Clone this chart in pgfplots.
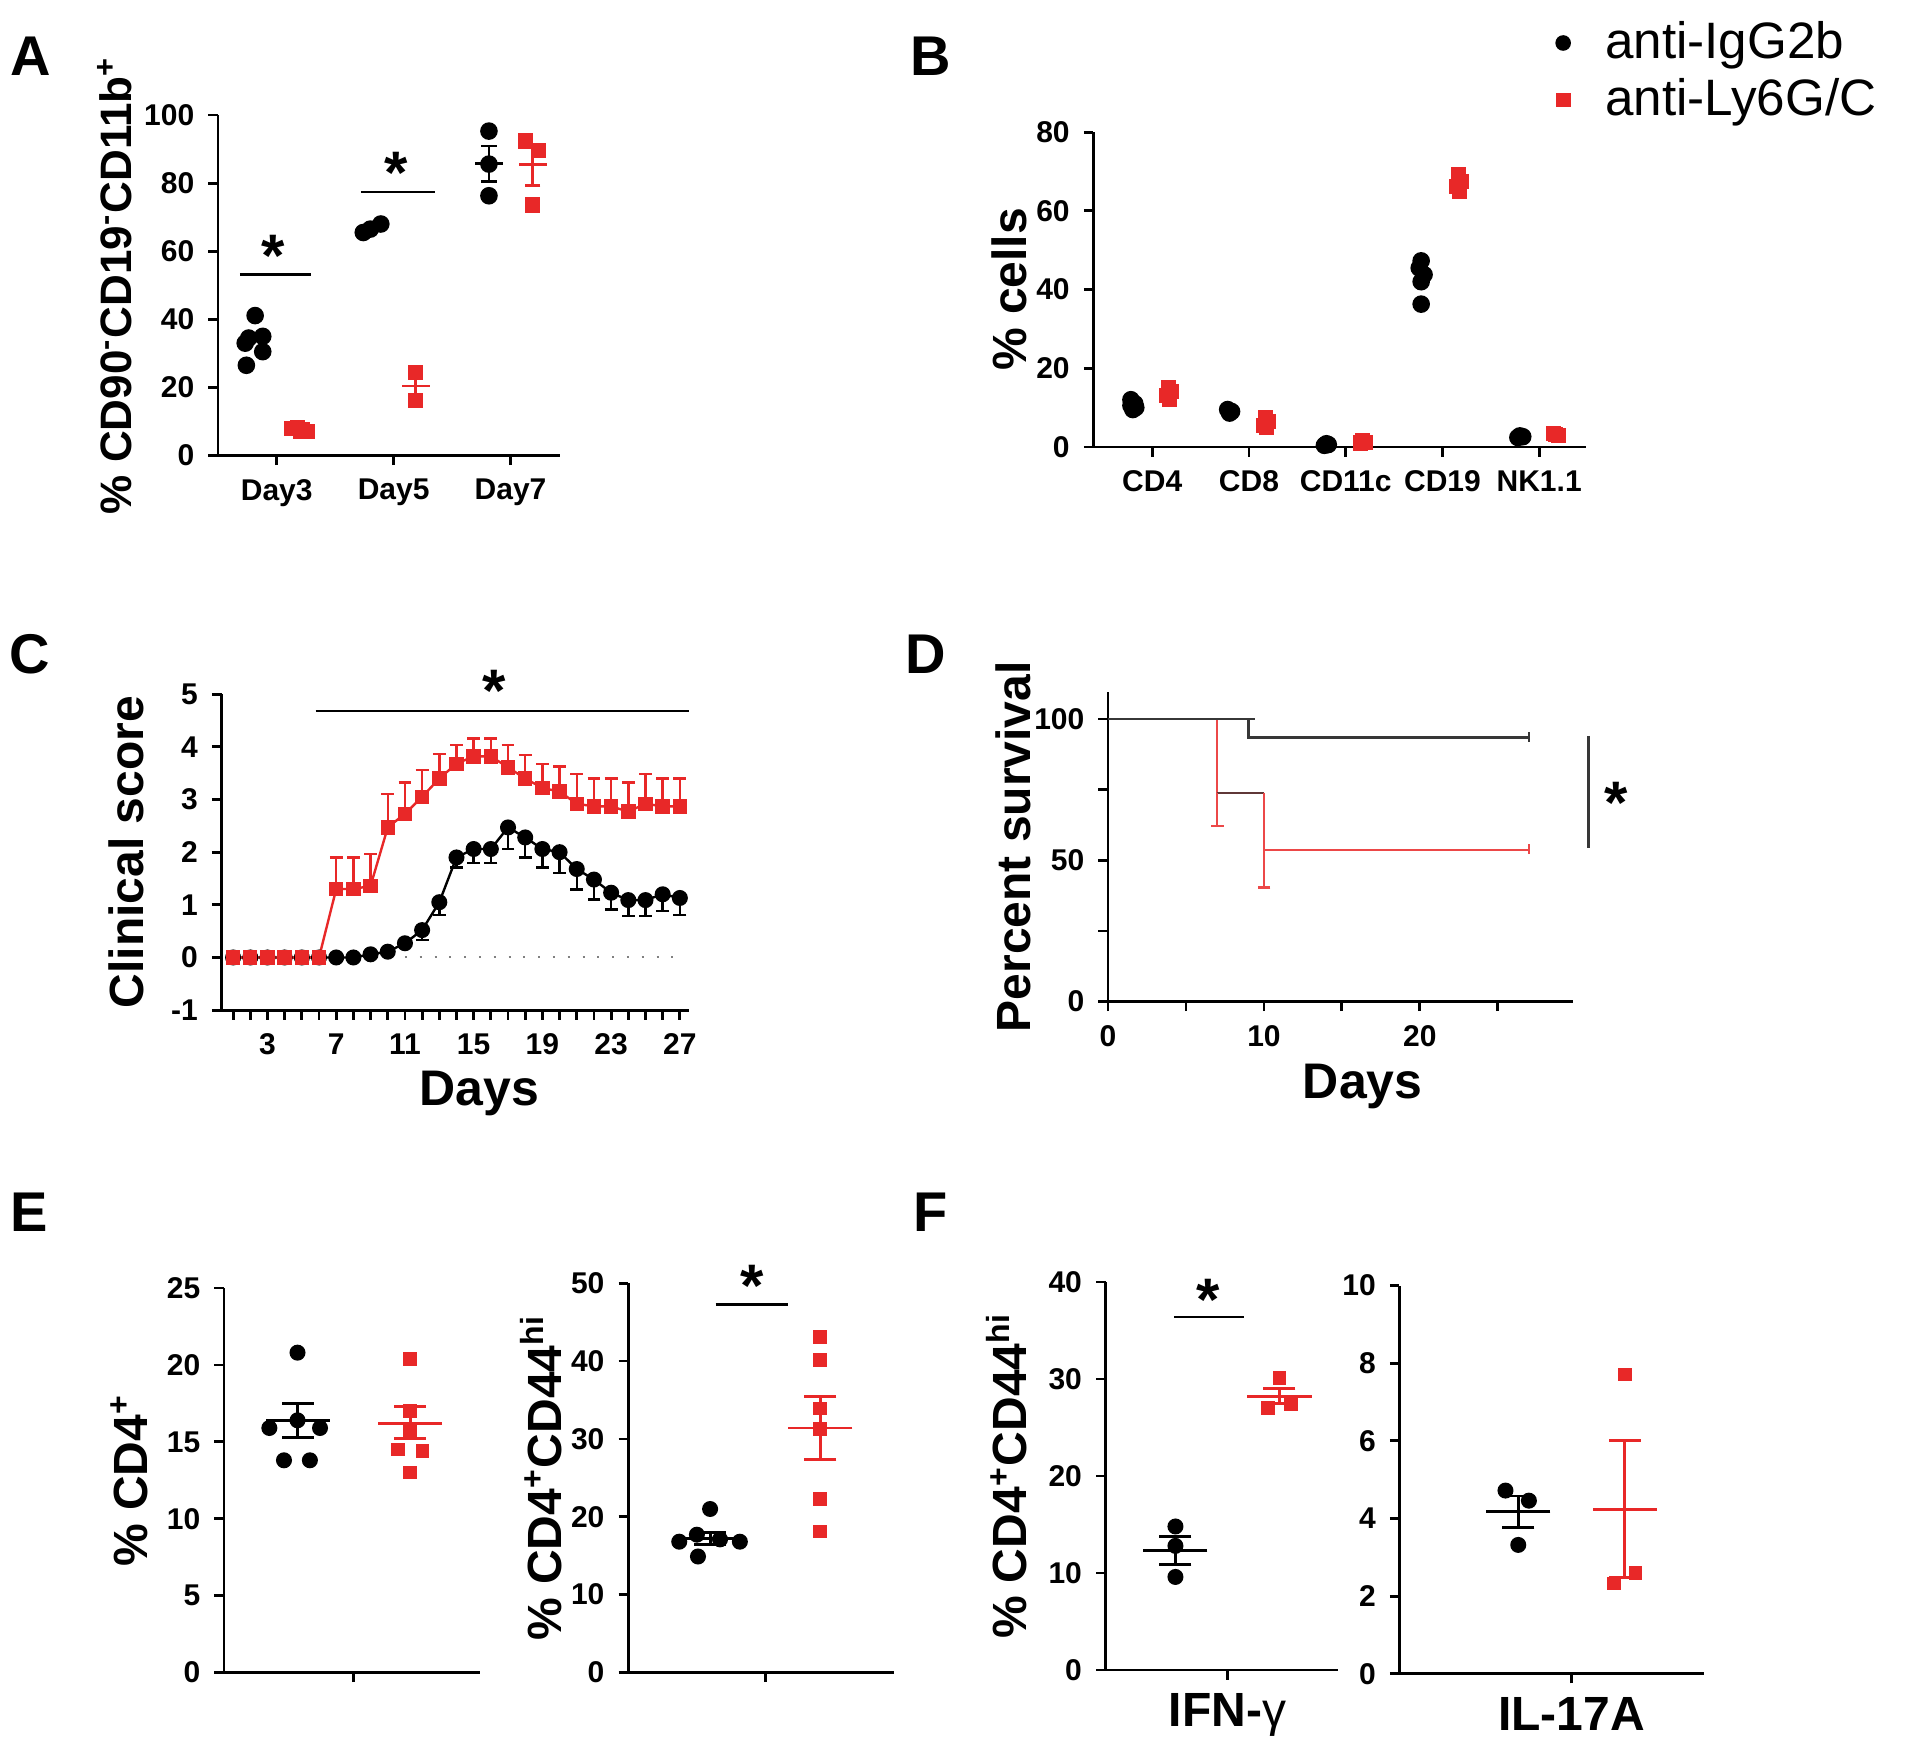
\documentclass[border=0pt]{standalone}
\usepackage{fontspec}
\setmainfont{Liberation Sans}
\setsansfont{Liberation Sans}
\usepackage{pgfplots}
\pgfplotsset{compat=1.18}
\definecolor{myred}{RGB}{232,40,40}
\definecolor{myredl}{RGB}{236,72,72}
\definecolor{dgray}{RGB}{55,55,55}
\definecolor{dred}{RGB}{95,55,55}
\newcommand\tickfont{\bfseries\fontsize{7.5}{8}\selectfont}
\newcommand\labfont{\bfseries\fontsize{12}{13}\selectfont}
\pgfplotsset{
  gp/.style={
    scale only axis, anchor=south west, clip=false,
    axis x line=bottom, axis y line=left,
    axis line style={line width=0.7pt,-},
    every outer x axis line/.append style={-},
    every outer y axis line/.append style={-},
    tick style={line width=0.7pt, black},
    tick align=outside,
    major tick length=2.4pt, minor tick length=2.4pt,
    tick label style={font=\tickfont},
    /pgf/number format/assume math mode=true,
    label style={font=\labfont},
  },
  blk/.style={only marks, mark=*, mark size=2pt, black, forget plot},
  rd/.style={only marks, mark=square*, mark size=1.7pt, myred, forget plot},
  bar/.style={only marks, mark=-, mark size=#1, mark options={line width=0.7pt}, forget plot},
  sem/.style={line width=0.7pt, forget plot},
}
\tikzset{star/.style={font=\bfseries\fontsize{15}{15}\selectfont, yshift=-3.2pt},
  plabel/.style={font=\bfseries\fontsize{14}{14}\selectfont}}
\begin{document}
\begin{tikzpicture}
\useasboundingbox (0,0) rectangle (480pt,-439pt);
\node[plabel] at (7.6pt,-14.1pt) {A};
\node[plabel] at (232.6pt,-14.1pt) {B};
\node[plabel] at (7.4pt,-163.5pt) {C};
\node[plabel] at (231.4pt,-163.5pt) {D};
\node[plabel] at (7.4pt,-303.0pt) {E};
\node[plabel] at (232.6pt,-303.0pt) {F};

% ---------------- A
\begin{axis}[gp, at={(54.49pt,-113.87pt)}, width=85.40pt, height=85.10pt,
  xmin=0.497, xmax=3.419, ymin=0, ymax=100,
  xtick={1,2,3}, xticklabels={Day3,Day5,Day7},
  ytick={0,20,...,100},
  ylabel={\% CD90\textsuperscript{-}CD19\textsuperscript{-}CD11b\textsuperscript{+}},
  ylabel style={font=\bfseries\fontsize{11}{12}\selectfont}, ylabel shift=-3.7pt]
\addplot[blk] coordinates {(0.815,41.1)(0.73,33.0)(0.88,35.0)(0.76,34.5)(0.88,30.5)(0.74,26.5)
  (1.74,65.5)(1.80,66.5)(1.89,68.0)(2.815,95.3)(2.815,85.6)(2.815,76.3)};
\addplot[rd] coordinates {(1.13,7.9)(1.18,8.1)(1.22,7.6)(1.26,7.1)(1.20,7.0)
  (2.19,24.4)(2.19,16.1)(3.13,92.4)(3.24,89.7)(3.19,73.6)};
\addplot[sem, black] coordinates {(2.815,80.4)(2.815,90.9)};
\addplot[bar=1.9pt, black] coordinates {(2.815,80.4)(2.815,90.9)};
\addplot[bar=3.5pt, black] coordinates {(2.815,85.7)};
\addplot[sem, myred] coordinates {(3.19,79.4)(3.19,90.9)};
\addplot[bar=1.9pt, myred] coordinates {(3.19,79.4)(3.19,90.9)};
\addplot[bar=3.5pt, myred] coordinates {(3.19,85.6)};
\addplot[sem, myred] coordinates {(2.19,16.4)(2.19,24.4)};
\addplot[bar=3.5pt, myred] coordinates {(2.19,20.4)};
\draw[line width=0.7pt] (axis cs:0.685,53.2) -- (axis cs:1.29,53.2);
\node[star] at (axis cs:0.97,62.5) {*};
\draw[line width=0.7pt] (axis cs:1.72,77.4) -- (axis cs:2.35,77.4);
\node[star] at (axis cs:2.02,86.7) {*};
\end{axis}

% ---------------- B
\begin{axis}[gp, at={(273.35pt,-111.73pt)}, width=123.05pt, height=78.67pt,
  xmin=0.392, xmax=5.48, ymin=0, ymax=80,
  xtick={1,2,3,4,5}, xticklabels={CD4,CD8,CD11c,CD19,NK1.1},
  ytick={0,20,...,80},
  ylabel={\% cells}, ylabel shift=-4.5pt,
  legend image code/.code={\path[draw=none,fill=none] (-2pt,-0.1pt) rectangle (8.5pt,0.1pt); \draw[#1] plot coordinates {(0pt,0pt)};},
  legend style={at={(0.9365,1.38)}, anchor=north west, draw=none, fill=none,
    font=\fontsize{12.8}{15}\selectfont, row sep=-0.5pt, inner sep=0pt},
  legend cell align=left]
\addlegendimage{only marks, mark=*, mark size=1.75pt, black}
\addlegendentry{anti-IgG2b}
\addlegendimage{only marks, mark=square*, mark size=1.65pt, myred}
\addlegendentry{anti-Ly6G/C}
\addplot[blk] coordinates {(0.78,12.0)(0.82,11.0)(0.78,10.5)(0.83,10.0)(0.80,9.5)
  (1.78,9.5)(1.82,9.0)(1.80,8.6)(2.78,0.4)(2.82,0.6)(2.80,0.8)
  (3.78,47.3)(3.76,45.5)(3.81,43.8)(3.78,42.0)(3.78,36.3)(4.78,2.4)(4.83,2.6)(4.80,2.8)};
\addplot[rd] coordinates {(1.17,15.0)(1.20,14.0)(1.15,13.0)(1.18,12.0)
  (2.17,7.5)(2.20,6.5)(2.15,5.5)(2.18,5.0)(3.15,1.0)(3.20,1.2)(3.17,1.5)
  (4.17,69.3)(4.20,67.5)(4.15,66.2)(4.18,65.0)(5.17,3.2)(5.20,2.9)(5.15,3.4)};
\end{axis}

% ---------------- C
\begin{axis}[gp, at={(55.40pt,-252.53pt)}, width=116.93pt, height=78.97pt,
  xmin=0.33, xmax=27.55, ymin=-1, ymax=5,
  xtick={3,7,...,27}, minor xtick={1,...,27},
  ytick={-1,0,...,5},
  xlabel={Days}, ylabel={Clinical score},
  xlabel shift=-2.8pt, xlabel style={xshift=6pt, font=\bfseries\fontsize{12.5}{13}\selectfont}]
\draw[gray, line width=0.5pt, dash pattern=on 0.5pt off 3.2pt] (axis cs:11,0) -- (axis cs:27.2,0);
\addplot[black, line width=0.6pt, mark=*, mark size=1.7pt,
  error bars/.cd, y dir=minus, y explicit, error mark=-,
  error bar style={line width=0.6pt, black},
  error mark options={rotate=90, black, mark size=1.6pt, line width=0.6pt}]
  table[x=d, y=m, y error=e] {
d m e
1 0 0
2 0 0
3 0 0
4 0 0
5 0 0
6 0 0
7 0 0
8 0 0
9 0.06 0
10 0.11 0
11 0.27 0.05
12 0.52 0.19
13 1.05 0.24
14 1.90 0.19
15 2.06 0.26
16 2.06 0.26
17 2.47 0.41
18 2.28 0.38
19 2.06 0.35
20 2.00 0.39
21 1.68 0.39
22 1.48 0.38
23 1.23 0.32
24 1.09 0.30
25 1.09 0.30
26 1.20 0.32
27 1.13 0.32
};
\addplot[myred, line width=0.6pt, mark=square*, mark size=1.5pt,
  error bars/.cd, y dir=plus, y explicit, error mark=-,
  error bar style={line width=0.6pt, myred},
  error mark options={rotate=90, myred, mark size=1.6pt, line width=0.6pt}]
  table[x=d, y=m, y error=e] {
d m e
1 0 0
2 0 0
3 0 0
4 0 0
5 0 0
6 0 0
7 1.30 0.60
8 1.30 0.60
9 1.36 0.60
10 2.47 0.64
11 2.73 0.59
12 3.05 0.51
13 3.40 0.46
14 3.68 0.36
15 3.82 0.34
16 3.82 0.34
17 3.61 0.43
18 3.40 0.45
19 3.22 0.45
20 3.15 0.48
21 2.92 0.56
22 2.87 0.53
23 2.87 0.53
24 2.77 0.55
25 2.92 0.56
26 2.87 0.53
27 2.87 0.53
};
\draw[line width=0.7pt] (axis cs:5.8,4.68) -- (axis cs:27.55,4.68);
\node[star] at (axis cs:16.2,5.3) {*};
\end{axis}

% ---------------- D
\begin{axis}[gp, at={(277.02pt,-250.39pt)}, width=116.32pt, height=77.44pt,
  xmin=0, xmax=29.85, ymin=0, ymax=109.6,
  xtick={0,10,20}, minor xtick={5,15,25},
  ytick={0,50,100}, minor ytick={25,75},
  xlabel={Days}, ylabel={Percent survival}, ylabel shift=-6pt,
  xlabel shift=-2.5pt, xlabel style={xshift=5.5pt, font=\bfseries\fontsize{12.5}{13}\selectfont}]
\addplot[myredl, line width=0.55pt] coordinates {(7,100)(7,73.9)};
\addplot[dred, line width=0.55pt] coordinates {(7,73.9)(10,73.9)};
\addplot[myredl, line width=0.55pt] coordinates {(10,73.9)(10,53.6)(27,53.6)};
\addplot[myredl, line width=0.55pt] coordinates {(7,73.9)(7,62.1)};
\addplot[myredl, line width=0.55pt] coordinates {(10,53.6)(10,40.4)};
\addplot[bar=1.6pt, myredl] coordinates {(7,62.1)(10,40.4)};
\addplot[myredl, line width=0.55pt] coordinates {(27,52.2)(27,55.6)};
\addplot[dgray, line width=0.7pt] coordinates {(0,100)(9,100)(9,93.3)(27,93.3)};
\addplot[bar=1.6pt, dgray] coordinates {(9,100)};
\addplot[dgray, line width=0.7pt] coordinates {(27,92.0)(27,95.3)};
\draw[dgray, line width=0.7pt] (axis cs:30.8,94) -- (axis cs:30.8,54.5);
\node[star] at (axis cs:32.6,75) {*};
\end{axis}

% ---------------- E1
\begin{axis}[gp, at={(56.02pt,-418.13pt)}, width=63.97pt, height=96.12pt,
  xmin=-0.652, xmax=1.62, ymin=0, ymax=25,
  xtick={0.5}, xticklabels={},
  ytick={0,5,...,25},
  ylabel={\% CD4\textsuperscript{+}}, ylabel shift=-2pt]
\addplot[blk, mark size=1.8pt] coordinates {(0,20.8)(-0.25,15.9)(0,16.4)(0.20,15.9)(-0.12,13.8)(0.11,13.8)};
\addplot[rd, mark size=1.5pt] coordinates {(1,20.4)(1,17.0)(1,15.7)(0.89,14.5)(1.11,14.4)(1,13.0)};
\addplot[sem, black] coordinates {(0,15.3)(0,17.5)};
\addplot[bar=4pt, black] coordinates {(0,15.3)(0,17.5)};
\addplot[bar=8pt, black] coordinates {(0,16.4)};
\addplot[sem, myred] coordinates {(1,15.2)(1,17.3)};
\addplot[bar=4pt, myred] coordinates {(1,15.2)(1,17.3)};
\addplot[bar=8pt, myred] coordinates {(1,16.2)};
\end{axis}

% ---------------- E2
\begin{axis}[gp, at={(157.03pt,-418.13pt)}, width=66.42pt, height=97.34pt,
  xmin=-0.744, xmax=1.667, ymin=0, ymax=50,
  xtick={0.5}, xticklabels={},
  ytick={0,10,...,50},
  ylabel={\% CD4\textsuperscript{+}CD44\textsuperscript{hi}}, ylabel shift=-4.5pt]
\addplot[blk, mark size=1.8pt] coordinates {(0,21.0)(-0.28,16.8)(-0.12,17.7)(0.09,17.1)(0.27,16.8)(-0.11,14.9)};
\addplot[rd, mark size=1.5pt] coordinates {(1,43.1)(1,40.1)(1,33.9)(1,31.3)(1,22.3)(1,18.1)};
\addplot[sem, black] coordinates {(0,16.4)(0,18.0)};
\addplot[bar=4pt, black] coordinates {(0,16.4)(0,18.0)};
\addplot[bar=8pt, black] coordinates {(0,17.2)};
\addplot[sem, myred] coordinates {(1,27.4)(1,35.4)};
\addplot[bar=4pt, myred] coordinates {(1,27.4)(1,35.4)};
\addplot[bar=8pt, myred] coordinates {(1,31.4)};
\draw[line width=0.7pt] (axis cs:0.05,47.3) -- (axis cs:0.71,47.3);
\node[star] at (axis cs:0.38,51.3) {*};
\end{axis}

% ---------------- F1
\begin{axis}[gp, at={(276.41pt,-417.52pt)}, width=58.16pt, height=97.03pt,
  xmin=-0.671, xmax=1.565, ymin=0, ymax=40,
  xtick={0.5}, xticklabels={IFN-{\mdseries γ}},
  xticklabel style={font=\labfont},
  ytick={0,10,...,40},
  ylabel={\% CD4\textsuperscript{+}CD44\textsuperscript{hi}}, ylabel shift=-1.5pt]
\addplot[blk, mark size=1.8pt] coordinates {(0,14.8)(0,12.8)(0,9.6)};
\addplot[rd, mark size=1.5pt] coordinates {(1,30.1)(0.89,27.0)(1.11,27.4)};
\addplot[sem, black] coordinates {(0,10.9)(0,13.8)};
\addplot[bar=4pt, black] coordinates {(0,10.9)(0,13.8)};
\addplot[bar=8pt, black] coordinates {(0,12.3)};
\addplot[sem, myred] coordinates {(1,27.5)(1,29.0)};
\addplot[bar=4pt, myred] coordinates {(1,27.5)(1,29.0)};
\addplot[bar=8pt, myred] coordinates {(1,28.2)};
\draw[line width=0.7pt] (axis cs:-0.01,36.4) -- (axis cs:0.66,36.4);
\node[star] at (axis cs:0.31,39.5) {*};
\end{axis}

% ---------------- F2
\begin{axis}[gp, at={(349.87pt,-418.44pt)}, width=76.22pt, height=97.03pt,
  xmin=-1.115, xmax=1.747, ymin=0, ymax=10,
  xtick={0.5}, xticklabels={IL-17A},
  xticklabel style={font=\labfont},
  ytick={0,2,...,10}]
\addplot[blk, mark size=1.8pt] coordinates {(-0.12,4.72)(0.10,4.46)(0,3.32)};
\addplot[rd, mark size=1.5pt] coordinates {(1,7.71)(1.10,2.60)(0.90,2.33)};
\addplot[sem, black] coordinates {(0,3.77)(0,4.58)};
\addplot[bar=4pt, black] coordinates {(0,3.77)(0,4.58)};
\addplot[bar=8pt, black] coordinates {(0,4.18)};
\addplot[sem, myred] coordinates {(1,2.49)(1,6.0)};
\addplot[bar=4pt, myred] coordinates {(1,2.49)(1,6.0)};
\addplot[bar=8pt, myred] coordinates {(1,4.23)};
\end{axis}
\end{tikzpicture}
\end{document}
